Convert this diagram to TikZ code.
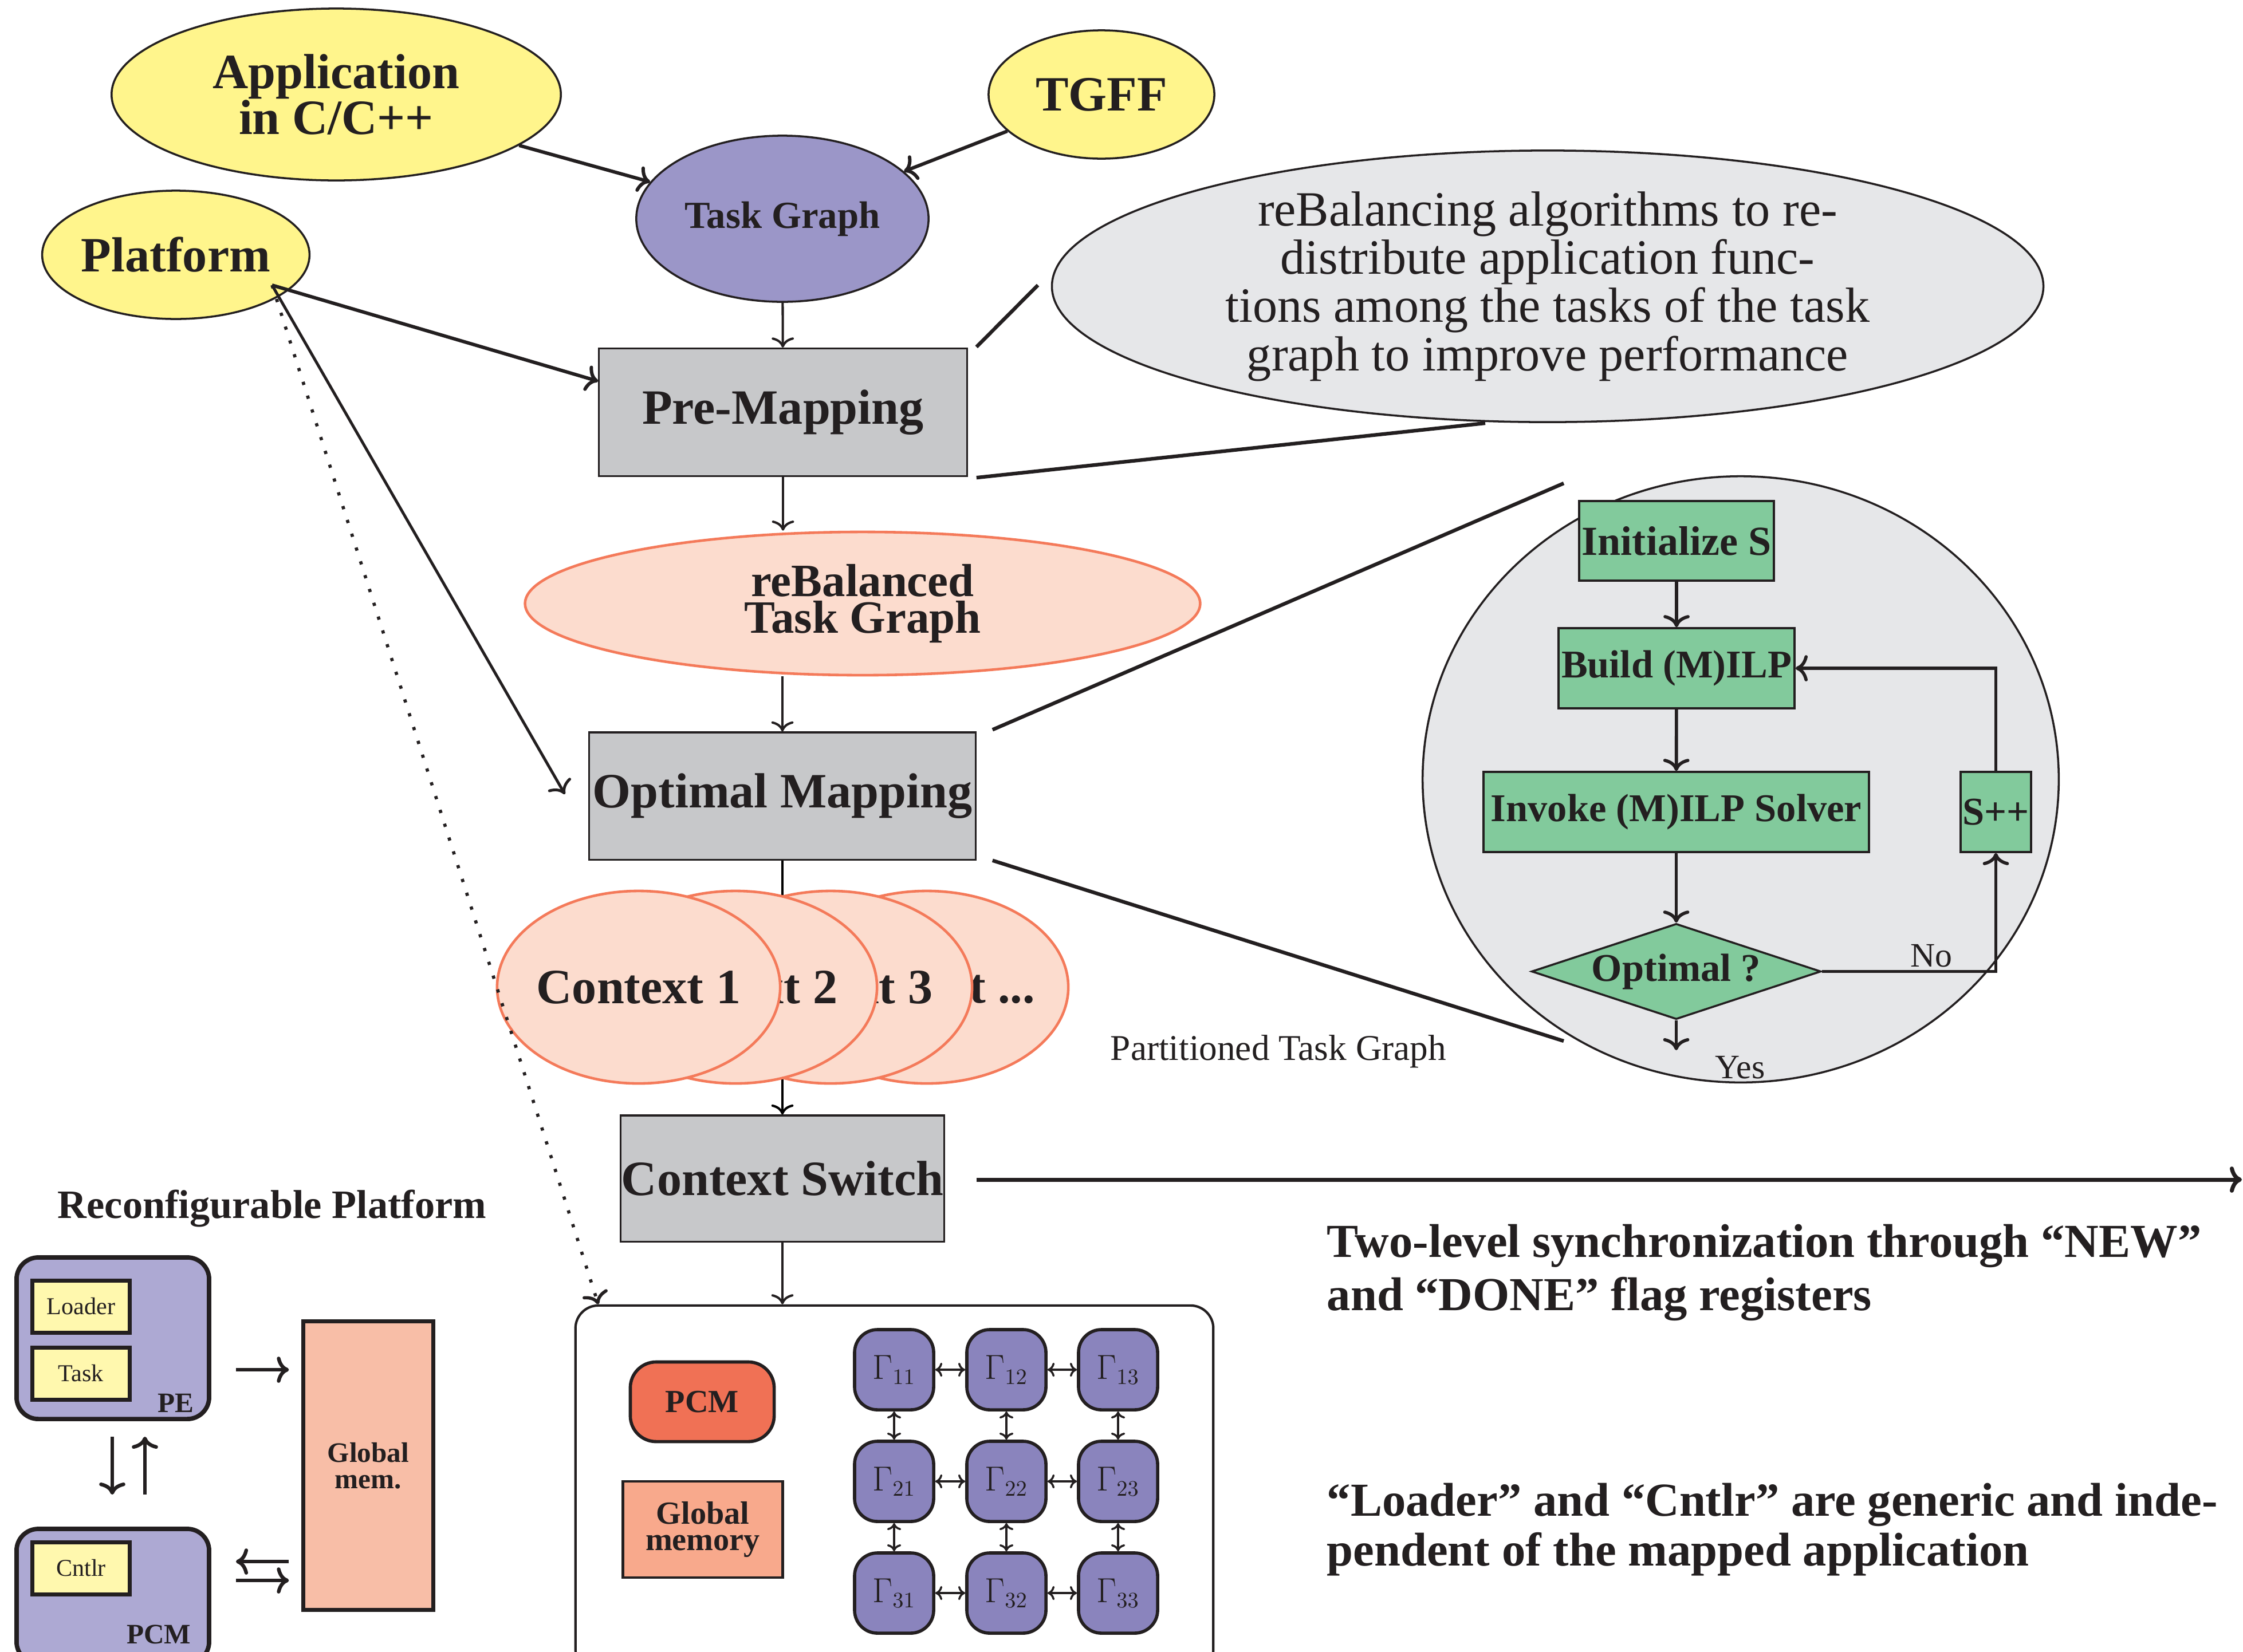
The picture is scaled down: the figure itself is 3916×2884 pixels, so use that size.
\documentclass[tikz,border=0pt]{standalone}
\usepackage{fontspec}
\setmainfont{Liberation Serif}
\usetikzlibrary{shapes.geometric,arrows.meta,calc,backgrounds}

\definecolor{ink}{HTML}{231F20}
\definecolor{srcyellow}{HTML}{FFF58C}
\definecolor{tgviolet}{HTML}{9B96C8}
\definecolor{stepgray}{HTML}{C7C8CA}
\definecolor{notegray}{HTML}{E6E7E9}
\definecolor{ctxfill}{HTML}{FCDCCE}
\definecolor{ctxline}{HTML}{F47A5A}
\definecolor{flowgreen}{HTML}{82CA9C}
\definecolor{pelilac}{HTML}{ADA9D3}
\definecolor{paleyellow}{HTML}{FFF8AE}
\definecolor{memsalmon}{HTML}{F8BEA7}
\definecolor{pcmred}{HTML}{F07155}
\definecolor{memorange}{HTML}{F8A98C}
\definecolor{gammaviolet}{HTML}{8A84BD}

\newcommand\fsize[2]{\fontsize{#1}{#2}\selectfont}
\newcommand\fbig{\fsize{24.5}{23}\bfseries}
\newcommand\fflow{\fsize{19.5}{22}\bfseries}

\begin{document}
\begin{tikzpicture}[x=0.01cm, y=-0.01cm, color=ink,
  arr/.style={-{To[length=5pt,width=11pt]}, line width=1.15pt},
  thickarr/.style={-{To[length=6pt,width=13pt]}, line width=1.7pt},
  medarr/.style={-{To[length=6pt,width=13pt]}, line width=1.4pt},
  dotarr/.style={-{To[length=6pt,width=13pt]}, line width=1.6pt, dash pattern=on 1.6pt off 5.6pt},
  flowarr/.style={-{To[length=6pt,width=13pt]}, line width=1.6pt},
  garr/.style={{To[length=3.5pt,width=7pt]}-{To[length=3.5pt,width=7pt]}, line width=1pt},
  hwarr/.style={-{To[length=6pt,width=13pt]}, line width=1.8pt},
  zoomline/.style={line width=1.8pt},
  srcell/.style={ellipse, draw, fill=srcyellow, line width=1pt, inner sep=0pt, align=center, font=\fbig},
  stepbox/.style={rectangle, draw, fill=stepgray, line width=0.9pt, inner sep=0pt, font=\fbig},
  ctxell/.style={ellipse, draw=ctxline, fill=ctxfill, line width=1.3pt, inner sep=0pt, minimum width=4.94cm, minimum height=3.36cm},
  flowbox/.style={rectangle, draw, fill=flowgreen, line width=1pt, inner sep=0pt, font=\fflow},
  gammabox/.style={rectangle, rounded corners=0.4cm, draw, fill=gammaviolet, line width=1.6pt, inner sep=0pt, minimum width=1.38cm, minimum height=1.40cm, font=\fsize{16}{18}},
  hwunit/.style={rectangle, rounded corners=0.38cm, draw, fill=pelilac, line width=2.2pt, inner sep=0pt},
  swbox/.style={rectangle, draw, fill=paleyellow, line width=2pt, inner sep=0pt, minimum width=1.69cm, minimum height=0.91cm, font=\fsize{12}{14}},
  sidetext/.style={anchor=base west, inner sep=0pt, font=\fsize{23.5}{23}\bfseries}
]
\useasboundingbox (0,0) rectangle (3916,2884);

% ---------- inputs ----------
\node[srcell, minimum width=7.84cm, minimum height=3.0cm] (app) at (587,165) {Application\\in C/C++};
\node[srcell, minimum width=3.94cm, minimum height=2.24cm] (tgff) at (1923,165) {TGFF};
\node[srcell, minimum width=4.6cm, minimum height=2.24cm] (plat) at (307,445) {Platform};
\node[ellipse, draw, fill=tgviolet, line width=1pt, inner sep=0pt, minimum width=5.1cm, minimum height=2.9cm, font=\fsize{19}{22}\bfseries] (tg) at (1366,382) {Task Graph};

% ---------- note on rebalancing ----------
\node[ellipse, draw, fill=notegray, line width=1pt, inner sep=0pt, minimum width=17.3cm, minimum height=4.74cm] (note) at (2702,500) {};
\node[align=center, inner sep=0pt, font=\fsize{24.5}{24}] (notetext) at (2702,500)
  {reBalancing algorithms to re-\\distribute application func-\\tions among the tasks of the task\\graph to improve performance};

% ---------- main flow ----------
\node[stepbox, minimum width=6.42cm, minimum height=2.23cm] (pm) at (1367,720) {Pre-Mapping};
\node[ellipse, draw=ctxline, fill=ctxfill, line width=1.3pt, inner sep=0pt, minimum width=11.78cm, minimum height=2.5cm, align=center, font=\fsize{23}{18}\bfseries] (rb) at (1506,1054) {reBalanced\\Task Graph};
\node[stepbox, minimum width=6.74cm, minimum height=2.22cm] (om) at (1366,1390) {Optimal Mapping};

% stacked contexts, back to front
\node[ctxell] (ctx4) at (1618,1724) {};
\node[font=\fbig, inner sep=0pt] (ctx4text) at (1618,1724) {Context ...};
\node[ctxell] (ctx3) at (1450,1724) {};
\node[font=\fbig, inner sep=0pt] (ctx3text) at (1450,1724) {Context 3};
\node[ctxell] (ctx2) at (1284,1724) {};
\node[font=\fbig, inner sep=0pt] (ctx2text) at (1284,1724) {Context 2};
\node[ctxell] (ctx1) at (1115,1724) {};
\node[font=\fbig, inner sep=0pt] (ctx1text) at (1115,1724) {Context 1};

\node[font=\fsize{18}{20}] (ptg) at (2232,1836) {Partitioned Task Graph};

\node[stepbox, minimum width=5.64cm, minimum height=2.2cm] (cs) at (1366,2058) {Context Switch};

% ---------- mapping solver detail ----------
\node[ellipse, draw, fill=notegray, line width=1pt, inner sep=0pt, minimum width=11.1cm, minimum height=10.58cm] (zoom) at (3039,1361) {};
\node[flowbox, minimum width=3.40cm, minimum height=1.39cm, font=\fsize{20.5}{22}\bfseries] (init) at (2927,944.5) {Initialize S};
\node[flowbox, minimum width=4.12cm, minimum height=1.40cm] (build) at (2927,1167) {Build (M)ILP};
\node[flowbox, minimum width=6.73cm, minimum height=1.40cm] (invoke) at (2926.5,1418) {Invoke (M)ILP Solver};
\node[flowbox, minimum width=1.23cm, minimum height=1.40cm] (spp) at (3484.5,1418) {S++};
\node[diamond, draw, fill=flowgreen, line width=1pt, aspect=3, inner sep=0pt, minimum width=5.05cm, minimum height=1.67cm, font=\fflow] (opt) at (2926.5,1696.5) {Optimal ?};
\node[font=\fsize{17}{20}] (nolabel) at (3372,1669) {No};
\node[font=\fsize{17}{20}] (yeslabel) at (3038,1864) {Yes};
\coordinate (yesend) at (2926.5,1834);

\draw[flowarr] (init) -- (build);
\draw[flowarr] (build) -- (invoke);
\draw[flowarr] (invoke) -- (opt);
\draw[flowarr] (opt.south) -- (yesend);
\draw[flowarr] (opt.east) -| (spp.south);
\draw[flowarr] (spp.north) |- (build.east);

% ---------- target hardware ----------
\node[draw, rounded corners=0.4cm, line width=1.2pt, minimum width=11.13cm, minimum height=6.4cm] (hw) at (1561.5,2600) {};
\node[draw, fill=pcmred, rounded corners=0.45cm, line width=1.6pt, inner sep=0pt, minimum width=2.51cm, minimum height=1.39cm, font=\fsize{16}{18}\bfseries] (pcm) at (1226,2448) {PCM};
\node[draw, fill=memorange, line width=1.2pt, inner sep=0pt, minimum width=2.79cm, minimum height=1.68cm, align=center, font=\fsize{16}{13}\bfseries] (gmem) at (1227,2671) {Global\\memory};
\foreach \r/\y in {1/2392,2/2587,3/2782}
  \foreach \c/\x in {1/1561,2/1757,3/1952}
    \node[gammabox] (g\r\c) at (\x,\y) {$\Gamma_{\r\c}$};
\foreach \r in {1,2,3} {
  \draw[garr] (g\r1) -- (g\r2);
  \draw[garr] (g\r2) -- (g\r3);
}
\foreach \c in {1,2,3} {
  \draw[garr] (g1\c) -- (g2\c);
  \draw[garr] (g2\c) -- (g3\c);
}

% ---------- reconfigurable platform ----------
\node[font=\fsize{20}{24}\bfseries] (rptitle) at (475,2110) {Reconfigurable Platform};
\node[hwunit, minimum width=3.36cm, minimum height=2.82cm] (pe) at (197,2337) {};
\node[swbox] (loader) at (141.5,2281.5) {Loader};
\node[swbox] (task) at (141.5,2398.5) {Task};
\node[anchor=base east, inner sep=0pt, font=\fsize{14}{16}\bfseries] (pelabel) at (339,2466) {PE};
\node[hwunit, minimum width=3.36cm, minimum height=2.35cm] (pcmunit) at (197,2787.5) {};
\node[swbox] (cntlr) at (141.5,2738.5) {Cntlr};
\node[anchor=base east, inner sep=0pt, font=\fsize{14}{16}\bfseries] (pcmlabel) at (334,2870) {PCM};
\node[draw, fill=memsalmon, line width=2pt, inner sep=0pt, minimum width=2.26cm, minimum height=5.03cm, align=center, font=\fsize{14}{13}\bfseries] (glob) at (643,2559.5) {Global\\mem.};

\draw[hwarr] ($(pe.east)+(43,55)$) -- ($(glob.west)+(-22,-167.5)$);
\draw[hwarr] ($(glob.west)+(-22,167.5)$) -- ($(pcmunit.east)+(43,-60.5)$);
\draw[hwarr] ($(pcmunit.east)+(43,-27.5)$) -- ($(glob.west)+(-22,200.5)$);
\draw[hwarr] ($(pe.south)+(-1,27)$) -- ($(pcmunit.north)+(-1,-56)$);
\draw[hwarr] ($(pcmunit.north)+(56,-56)$) -- ($(pe.south)+(56,27)$);

% ---------- side notes ----------
\node[sidetext] (sync1) at (2316,2195) {Two-level synchronization through “NEW”};
\node[sidetext] (sync2) at (2316,2288) {and “DONE” flag registers};
\node[sidetext] (gen1) at (2316,2647) {“Loader” and “Cntlr” are generic and inde-};
\node[sidetext] (gen2) at (2316,2734) {pendent of the mapped application};

% ---------- connectors ----------
\draw[thickarr] (app) -- (tg);
\draw[thickarr] (tgff) -- (tg);
\draw[arr] (tg) -- (pm);
\draw[arr] (pm.south) -- (pm.south |- rb.north);
\draw[arr] (om.north |- rb.south) -- (om.north);
\begin{scope}[on background layer]
  \draw[arr] (om.south) -- (cs.north);
\end{scope}
\draw[arr] (cs.south) -- (cs.south |- hw.north);

\coordinate (pj) at (475,498);
\draw[thickarr] (pj) -- ($(pm.north west)!0.26!(pm.south west)$);
\draw[medarr] (pj) -- ($(om.west)+(-41,-3)$);
\draw[dotarr] (pj) -- ($(hw.north west)+(42,0)$);

\coordinate (noteA) at (1812,498);
\coordinate (noteB) at (2593,739);
\draw[zoomline] ($(pm.north east)+(15,-1)$) -- (noteA);
\draw[zoomline] ($(pm.south east)+(15,1)$) -- (noteB);

\coordinate (zoomA) at (2730,844);
\coordinate (zoomB) at (2730,1818);
\draw[zoomline] ($(om.north east)+(28,-3)$) -- (zoomA);
\draw[zoomline] ($(om.south east)+(28,0)$) -- (zoomB);

\coordinate (csend) at (3914,2060);
\draw[-{To[length=6pt,width=13pt]}, line width=2pt] ($(cs.east)+(55,2)$) -- (csend);
\end{tikzpicture}
\end{document}
